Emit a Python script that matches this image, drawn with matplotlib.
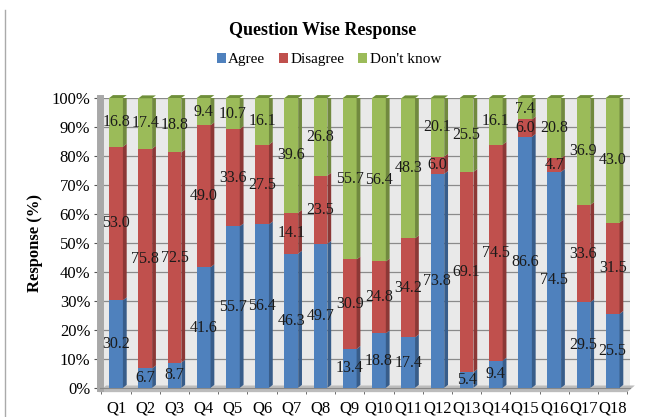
import numpy as np
import matplotlib.pyplot as plt
from matplotlib.patches import Polygon

questions = ['Q1', 'Q2', 'Q3', 'Q4', 'Q5', 'Q6', 'Q7', 'Q8', 'Q9', 'Q10',
             'Q11', 'Q12', 'Q13', 'Q14', 'Q15', 'Q16', 'Q17', 'Q18']
agree = [30.2, 6.7, 8.7, 41.6, 55.7, 56.4, 46.3, 49.7, 13.4, 18.8,
         17.4, 73.8, 5.4, 9.4, 86.6, 74.5, 29.5, 25.5]
disagree = [53.0, 75.8, 72.5, 49.0, 33.6, 27.5, 14.1, 23.5, 30.9, 24.8,
            34.2, 6.0, 69.1, 74.5, 6.0, 4.7, 33.6, 31.5]
dont_know = [16.8, 17.4, 18.8, 9.4, 10.7, 16.1, 39.6, 26.8, 55.7, 56.4,
             48.3, 20.1, 25.5, 16.1, 7.4, 20.8, 36.9, 43.0]

series = [('Agree', agree, '#4f81bd', '#385d8a'),
          ('Disagree', disagree, '#c0504d', '#8c3836'),
          ("Don't know", dont_know, '#9bbb59', '#71893f')]

plt.rcParams['font.family'] = ['Liberation Serif', 'DejaVu Serif']

fig = plt.figure(figsize=(6.45, 4.17), dpi=100)
ax = fig.add_axes([0.155, 0.07, 0.822, 0.695])

x = np.arange(len(questions))
width = 0.47
dx, dy = 0.13, 1.0  # fake 3D depth

# back wall and floor
ax.set_facecolor('#e9e9e9')
ax.add_patch(Polygon([(-0.6, -1.5), (17.5, -1.5), (17.5 + dx * 2, 0.8), (-0.6 + dx * 2, 0.8)],
                     closed=True, facecolor='#bcbcbc', edgecolor='none', zorder=1,
                     clip_on=False))

bottom = np.zeros(len(questions))
for name, vals, col, dark in series:
    vals = np.array(vals)
    ax.bar(x, vals, width, bottom=bottom, color=col, edgecolor='none', label=name, zorder=3)
    for xi, b, v in zip(x, bottom, vals):
        r = xi + width / 2
        # side face
        ax.add_patch(Polygon([(r, b), (r + dx, b + dy), (r + dx, b + v + dy), (r, b + v)],
                             closed=True, facecolor=dark, edgecolor='none', zorder=3))
        ax.text(xi, b + v / 2, f'{v:.1f}', ha='center', va='center', fontsize=11.5,
                color='#1a1a1a', zorder=5)
    bottom = bottom + vals

# top caps
for xi, top in zip(x, bottom):
    l, r = xi - width / 2, xi + width / 2
    ax.add_patch(Polygon([(l, top), (r, top), (r + dx, top + dy), (l + dx, top + dy)],
                         closed=True, facecolor='#6f8f3a', edgecolor='none', zorder=3,
                         clip_on=False))

ax.set_xlim(-0.55, 17.6)
ax.set_ylim(0, 100)
ax.set_yticks(np.arange(0, 101, 10))
ax.set_yticklabels([f'{v}%' for v in range(0, 101, 10)], fontsize=12)
ax.set_xticks(x)
ax.set_xticklabels(questions, fontsize=12)
ax.set_xticks(np.arange(-0.5, 18, 1), minor=True)
ax.tick_params(axis='x', which='major', length=0, pad=9)
ax.tick_params(axis='x', which='minor', length=4, color='#555555')
ax.tick_params(axis='y', length=4, color='#555555', pad=3)
ax.grid(axis='y', color='#8a8a8a', linewidth=0.9, zorder=0)
ax.set_axisbelow(True)
for s in ['top', 'right']:
    ax.spines[s].set_visible(False)
ax.spines['left'].set_color('#a8a8a8')
ax.spines['left'].set_linewidth(5)
ax.spines['bottom'].set_color('#888888')

ax.set_ylabel('Response (%)', fontsize=12, fontweight='bold', labelpad=6)

fig.suptitle('Question Wise Response', y=0.948, fontsize=13, fontweight='bold')
fig.legend(loc='center', bbox_to_anchor=(0.51, 0.857), ncol=3, frameon=False, fontsize=11,
           handlelength=0.6, handleheight=0.6, handletextpad=0.15, columnspacing=0.9)

fig.add_artist(plt.Line2D([0.008, 0.008], [0.0, 0.975], color='#aaaaaa', linewidth=1))

plt.savefig('out.png', dpi=100)
plt.close()
